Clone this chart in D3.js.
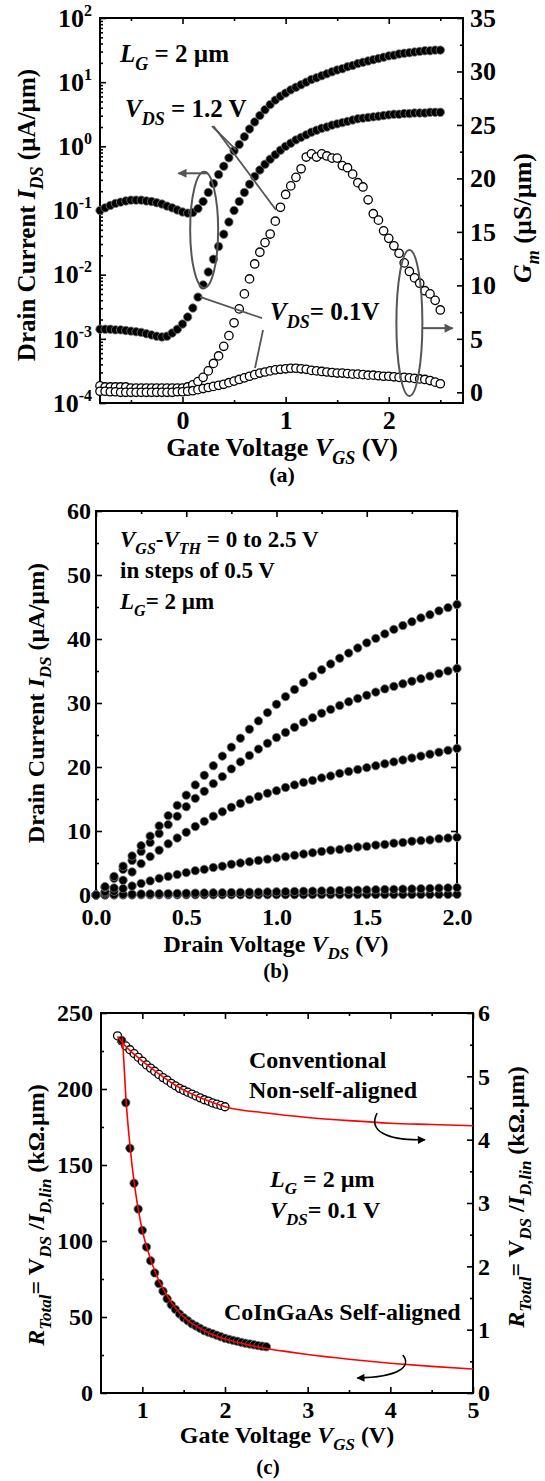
<!DOCTYPE html>
<html>
<head>
<meta charset="utf-8">
<script src="https://cdn.jsdelivr.net/npm/d3@7"></script>
<style>
  body { margin: 0; background: #fff; }
  text { font-family: "Liberation Serif", "Times New Roman", serif; font-weight: bold; fill: #000; }
</style>
</head>
<body>
<svg id="fig" width="545" height="1481"></svg>
<script>
// ---------- panel (a): transfer curves + transconductance ----------
var vgsA = [-0.8,-0.75,-0.7,-0.65,-0.6,-0.55,-0.5,-0.45,-0.4,-0.35,-0.3,-0.25,-0.2,-0.15,-0.1,-0.05,
  0,0.05,0.1,0.15,0.2,0.25,0.3,0.35,0.4,0.45,0.5,0.55,0.6,0.65,0.7,0.75,0.8,0.85,0.9,0.95,
  1,1.05,1.1,1.15,1.2,1.25,1.3,1.35,1.4,1.45,1.5,1.55,1.6,1.65,1.7,1.75,1.8,1.85,1.9,1.95,
  2,2.05,2.1,2.15,2.2,2.25,2.3,2.35,2.4,2.45,2.5];
// I_DS (uA/um) at V_DS = 1.2 V
var idsHigh = [0.100,0.110,0.120,0.129,0.135,0.141,0.145,0.145,0.145,0.141,0.138,0.132,0.126,0.117,0.110,0.102,
  0.095,0.091,0.093,0.107,0.138,0.191,0.263,0.363,0.490,0.661,0.851,
  1.07,1.41,1.86,2.40,3.02,3.72,4.47,5.25,6.03,
  6.76,7.59,8.32,9.12,10.0,11.0,11.7,12.6,13.5,14.5,
  15.5,16.2,17.4,18.2,19.5,20.4,21.4,22.4,23.4,24.5,
  25.7,26.3,27.5,28.2,28.8,29.5,30.2,30.9,30.9,31.6,31.6];
// I_DS (uA/um) at V_DS = 0.1 V
var idsLow = [1.41e-3,1.41e-3,1.41e-3,1.38e-3,1.38e-3,1.35e-3,1.32e-3,1.29e-3,1.26e-3,1.20e-3,1.15e-3,1.10e-3,1.07e-3,1.10e-3,1.23e-3,1.41e-3,
  1.70e-3,2.19e-3,3.02e-3,4.47e-3,6.92e-3,1.10e-2,1.74e-2,2.75e-2,4.27e-2,6.61e-2,0.100,
  0.138,0.191,0.257,0.339,0.427,0.525,0.631,0.741,0.871,
  1.00,1.12,1.26,1.38,1.51,1.66,1.78,1.91,2.00,2.14,
  2.24,2.34,2.45,2.57,2.69,2.75,2.82,2.88,2.95,3.02,
  3.09,3.16,3.16,3.24,3.24,3.31,3.31,3.31,3.39,3.39,3.39];
// G_m (uS/um) at V_DS = 1.2 V
var gmHigh = [0.6,0.5,0.5,0.5,0.5,0.5,0.4,0.4,0.4,0.4,0.4,0.4,0.4,0.4,0.4,0.4,
  0.4,0.5,0.7,1.0,1.4,2.0,2.7,3.4,4.3,5.3,6.5,
  7.8,9.2,10.6,12.0,13.1,14.0,14.8,16.0,17.3,
  18.5,19.3,20.1,20.9,22.0,22.3,22.0,22.3,22.1,21.9,
  21.9,21.2,21.0,20.4,19.6,19.2,18.0,16.7,16.1,15.1,
  14.4,13.7,13.0,12.1,11.3,10.7,10.2,9.5,9.2,8.6,7.7];
// G_m (uS/um) at V_DS = 0.1 V
var gmLow = [0.1,0.1,0.05,0.05,0,0,0,0,0,0,0,0,0,0,0,0.05,
  0.05,0.1,0.15,0.25,0.35,0.45,0.55,0.65,0.75,0.9,1.05,
  1.2,1.35,1.5,1.65,1.8,1.9,2.0,2.1,2.15,
  2.2,2.25,2.25,2.2,2.15,2.05,2.0,1.95,1.9,1.85,
  1.8,1.8,1.75,1.7,1.7,1.65,1.6,1.6,1.55,1.5,
  1.5,1.45,1.4,1.4,1.35,1.3,1.25,1.2,1.1,0.95,0.8];
var logTicksA = [1e-4,1e-3,1e-2,1e-1,1e0,1e1,1e2];
var gmTicksA = [0,5,10,15,20,25,30,35];
var vgsTicksA = [0,1,2];

// ---------- panel (b): output curves ----------
var vdsB = [0,0.05,0.1,0.15,0.2,0.25,0.3,0.35,0.4,0.45,0.5,0.55,0.6,0.65,0.7,0.75,0.8,0.85,0.9,0.95,
  1,1.05,1.1,1.15,1.2,1.25,1.3,1.35,1.4,1.45,1.5,1.55,1.6,1.65,1.7,1.75,1.8,1.85,1.9,1.95,2];
var ib25 = [0,1.3,2.9,4.5,6.1,7.7,9.2,10.8,12.4,14.0,15.6,17.2,18.7,20.2,21.7,23.1,24.5,25.9,27.2,28.5,
  29.8,31.0,32.1,33.2,34.2,35.2,36.1,37.0,37.8,38.6,39.4,40.1,40.8,41.5,42.1,42.7,43.3,43.8,44.4,44.9,45.4];
var ib20 = [0,1.2,2.6,4.0,5.4,6.8,8.2,9.6,11.0,12.3,13.8,15.1,16.2,17.4,18.5,19.7,20.8,21.8,22.8,23.7,
  24.6,25.4,26.2,27.0,27.7,28.4,29.0,29.6,30.2,30.7,31.2,31.7,32.2,32.6,33.0,33.4,33.8,34.2,34.6,35.0,35.4];
var ib15 = [0,0.5,1.1,2.3,3.6,4.9,6.0,7.0,8.0,8.9,9.8,10.7,11.5,12.3,13.0,13.7,14.3,14.9,15.4,15.9,
  16.3,16.8,17.2,17.6,17.9,18.3,18.6,19.0,19.3,19.6,19.9,20.2,20.5,20.8,21.1,21.4,21.7,22.0,22.3,22.6,22.9];
var ib10 = [0,0.3,0.6,1.0,1.4,1.8,2.2,2.6,2.9,3.2,3.5,3.8,4.0,4.3,4.5,4.8,5.0,5.2,5.4,5.6,
  5.8,6.0,6.2,6.4,6.6,6.8,7.0,7.1,7.3,7.5,7.6,7.8,7.9,8.1,8.2,8.4,8.5,8.6,8.8,8.9,9.0];
var ib05 = [0,0.03,0.06,0.09,0.12,0.15,0.18,0.2,0.22,0.25,0.27,0.3,0.32,0.34,0.36,0.38,0.41,0.43,0.45,0.48,
  0.5,0.53,0.56,0.58,0.61,0.64,0.67,0.7,0.73,0.76,0.79,0.82,0.85,0.88,0.92,0.95,0.99,1.03,1.07,1.11,1.15];
var ib00 = [0,0,0.01,0.01,0.01,0.02,0.02,0.02,0.02,0.03,0.03,0.03,0.03,0.03,0.04,0.04,0.04,0.04,0.04,0.05,
  0.05,0.05,0.05,0.05,0.06,0.06,0.06,0.06,0.06,0.07,0.07,0.07,0.07,0.07,0.08,0.08,0.08,0.08,0.09,0.09,0.1];
var idTicksB = [0,10,20,30,40,50,60];
var vdsTicksB = [0,0.5,1,1.5,2];

// ---------- panel (c): total resistance ----------
var vgsSA = [0.75,0.8,0.85,0.9,0.95,1,1.05,1.1,1.15,1.2,1.25,1.3,1.35,1.4,1.45,1.5,1.55,1.6,1.65,1.7,
  1.75,1.8,1.85,1.9,1.95,2,2.05,2.1,2.15,2.2,2.25,2.3,2.35,2.4,2.45,2.5];
var rSA = [232,191,161,138,121,107,96,87,79,72,67,62,58,55,52,49.5,47.5,45.5,44,42.5,
  41,40,39,38,37,36,35.3,34.6,34,33.3,32.7,32.2,31.7,31.2,30.8,30.4];          // left axis
var vgsConv = [0.7,0.75,0.8,0.85,0.9,0.95,1,1.05,1.1,1.15,1.2,1.25,1.3,1.35,1.4,1.45,1.5,1.55,1.6,1.65,
  1.7,1.75,1.8,1.85,1.9,1.95,2];
var rConv = [5.64,5.56,5.48,5.42,5.36,5.30,5.24,5.18,5.13,5.08,5.03,4.98,4.94,4.89,4.85,4.81,4.78,4.75,4.72,4.69,
  4.66,4.63,4.61,4.58,4.56,4.54,4.52];                                          // right axis
var fitSAv = [0.76,0.8,0.85,0.9,0.95,1,1.1,1.2,1.3,1.4,1.5,1.75,2,2.25,2.5,2.75,3,3.5,4,4.5,5];
var fitSAr = [234,195,163,139,121,107,88,74,64,56,50,41,35.5,32,29.3,27.2,25.3,22.2,19.6,17.5,15.8];
var fitConvV = [0.7,0.8,0.9,1,1.2,1.4,1.6,1.8,2,2.5,3,3.5,4,4.5,5];
var fitConvR = [5.63,5.47,5.35,5.24,5.04,4.86,4.72,4.61,4.52,4.42,4.35,4.30,4.26,4.24,4.22];
var rLeftTicksC = [0,50,100,150,200,250];
var rRightTicksC = [0,1,2,3,4,5,6];
var vgsTicksC = [1,2,3,4,5];

var svg = d3.select("#fig");
svg.append("rect").attr("width", 545).attr("height", 1481).attr("fill", "#fff");

var defs = svg.append("defs");
function marker(id, color, w, h) {
  defs.append("marker").attr("id", id)
    .attr("viewBox", "0 0 10 10").attr("refX", 9).attr("refY", 5)
    .attr("markerWidth", w).attr("markerHeight", h)
    .attr("markerUnits", "userSpaceOnUse").attr("orient", "auto")
    .append("path").attr("d", "M0,0 L10,5 L0,10 Z").attr("fill", color);
}
marker("arrGrey", "#555", 13, 9);
marker("arrBlack", "#000", 11, 8);

// text with italic / subscript pieces: parts = [[text, flags]], flags "i" italic, "s" subscript
function rich(parts, size, o) {
  var t = svg.append("text").attr("font-size", size)
    .attr("text-anchor", o.anchor || "start").style("white-space", "pre");
  if (o.rot) t.attr("transform", "translate(" + o.x + "," + o.y + ") rotate(-90)");
  else t.attr("x", o.x).attr("y", o.y);
  var off = 0;
  parts.forEach(function(p) {
    var f = p[1] || "";
    var s = t.append("tspan").text(p[0]);
    var sub = f.indexOf("s") >= 0;
    var want = sub ? Math.round(size * 0.3) : 0;
    if (want !== off) { s.attr("dy", want - off); off = want; }
    if (sub) s.attr("font-size", Math.round(size * 0.7));
    if (f.indexOf("i") >= 0) s.attr("font-style", "italic");
  });
  return t;
}

// inward ticks, optional labels
function tickAxis(gen, vals, size, pad, fmt, tx, ty, fs) {
  gen.tickValues(vals).tickSizeInner(-size).tickSizeOuter(0).tickPadding(pad)
    .tickFormat(fmt || function() { return ""; });
  var g = svg.append("g").attr("transform", "translate(" + tx + "," + ty + ")").call(gen);
  g.select(".domain").remove();
  g.selectAll("line").attr("stroke", "#000").attr("stroke-width", 1.6);
  g.selectAll("text").attr("font-size", fs || 24).attr("fill", "#000");
  return g;
}

function frame(x, y) {
  svg.append("rect")
    .attr("x", x.range()[0]).attr("y", y.range()[1])
    .attr("width", x.range()[1] - x.range()[0]).attr("height", y.range()[0] - y.range()[1])
    .attr("fill", "none").attr("stroke", "#000").attr("stroke-width", 2);
}

function dots(xv, yv, sx, sy, r, open) {
  svg.append("g").selectAll("circle")
    .data(xv.map(function(v, i) { return [v, yv[i]]; }))
    .join("circle")
      .attr("cx", function(d) { return sx(d[0]); })
      .attr("cy", function(d) { return sy(d[1]); })
      .attr("r", r)
      .attr("fill", open ? "#fff" : "#000")
      .attr("stroke", open ? "#000" : "#777")
      .attr("stroke-width", open ? 1.3 : 0.8);
}

function minorRange(a, b, step) {
  var out = [];
  for (var v = a; v <= b + 1e-9; v += step) out.push(+v.toFixed(3));
  return out;
}

// ===================== (a) =====================
var xA = d3.scaleLinear().domain([-0.8, 2.72]).range([100, 463]);
var yA = d3.scaleLog().domain([1e-4, 1e2]).range([403, 18]);
var gA = d3.scaleLinear().domain([-1, 35]).range([403, 18]);

var logMinor = [];
[-4, -3, -2, -1, 0, 1].forEach(function(k) {
  for (var m = 2; m <= 9; m++) logMinor.push(m * Math.pow(10, k));
});

var gl = tickAxis(d3.axisLeft(yA), logTicksA, 6, 8, null, 100, 0, 26);
gl.selectAll(".tick text").each(function(d) {
  var t = d3.select(this);
  t.append("tspan").text("10");
  t.append("tspan").attr("dy", -11).attr("font-size", 16).text(Math.round(Math.log10(d)));
});
tickAxis(d3.axisLeft(yA), logMinor, 3, 0, null, 100, 0);
tickAxis(d3.axisRight(gA), gmTicksA, 6, 7, d3.format("d"), 463, 0, 26);
tickAxis(d3.axisRight(gA), minorRange(2.5, 32.5, 5), 3, 0, null, 463, 0);
tickAxis(d3.axisBottom(xA), vgsTicksA, 6, 8, d3.format("d"), 0, 403, 26);
tickAxis(d3.axisBottom(xA), [-0.5, 0.5, 1.5, 2.5], 3, 0, null, 0, 403);
tickAxis(d3.axisTop(xA), vgsTicksA, 6, 0, null, 0, 18);
tickAxis(d3.axisTop(xA), [-0.5, 0.5, 1.5, 2.5], 3, 0, null, 0, 18);
frame(xA, yA);

dots(vgsA, idsHigh, xA, yA, 4.2, false);
dots(vgsA, idsLow, xA, yA, 4.2, false);
dots(vgsA, gmHigh, xA, gA, 4.2, true);
dots(vgsA, gmLow, xA, gA, 4.2, true);

// annotations (a)
var grey = "#555";
svg.append("ellipse").attr("cx", xA(0.21)).attr("cy", yA(0.05)).attr("rx", 14).attr("ry", 58)
  .attr("fill", "none").attr("stroke", grey).attr("stroke-width", 2);
svg.append("line").attr("x1", xA(0.24)).attr("y1", yA(0.38)).attr("x2", xA(-0.04)).attr("y2", yA(0.38))
  .attr("stroke", grey).attr("stroke-width", 2).attr("marker-end", "url(#arrGrey)");
svg.append("ellipse").attr("cx", xA(2.2)).attr("cy", gA(6.48)).attr("rx", 13).attr("ry", 73)
  .attr("fill", "none").attr("stroke", grey).attr("stroke-width", 2);
svg.append("line").attr("x1", xA(2.33)).attr("y1", gA(6)).attr("x2", xA(2.62)).attr("y2", gA(6))
  .attr("stroke", grey).attr("stroke-width", 2).attr("marker-end", "url(#arrGrey)");
// V_DS = 1.2 V pointers
svg.append("line").attr("x1", xA(0.286)).attr("y1", yA(2.07)).attr("x2", xA(0.52)).attr("y2", yA(0.88))
  .attr("stroke", grey).attr("stroke-width", 1.8);
svg.append("line").attr("x1", xA(0.30)).attr("y1", yA(2.07)).attr("x2", xA(0.907)).attr("y2", gA(17.05))
  .attr("stroke", grey).attr("stroke-width", 1.8);
// V_DS = 0.1 V pointers
svg.append("line").attr("x1", xA(0.17)).attr("y1", yA(4.5e-3)).attr("x2", xA(0.771)).attr("y2", yA(2.1e-3))
  .attr("stroke", grey).attr("stroke-width", 1.8);
svg.append("line").attr("x1", xA(0.781)).attr("y1", gA(5.83)).attr("x2", xA(0.703)).attr("y2", gA(2.27))
  .attr("stroke", grey).attr("stroke-width", 1.8);

rich([["L", "i"], ["G", "is"], [" = 2 µm"]], 25, { x: 120, y: 62 });
rich([["V", "i"], ["DS", "is"], [" = 1.2 V"]], 25, { x: 125, y: 117 });
rich([["V", "i"], ["DS", "is"], ["= 0.1V"]], 25, { x: 270, y: 320 });
rich([["Drain Current "], ["I", "i"], ["DS", "is"], [" (µA/µm)"]], 25, { x: 35, y: 215, rot: true, anchor: "middle" });
rich([["G", "i"], ["m", "is"], [" (µS/µm)"]], 26, { x: 531, y: 218, rot: true, anchor: "middle" });
rich([["Gate Voltage "], ["V", "i"], ["GS", "is"], [" (V)"]], 26, { x: 282, y: 456, anchor: "middle" });
rich([["(a)"]], 22, { x: 282, y: 482, anchor: "middle" });

// ===================== (b) =====================
var xB = d3.scaleLinear().domain([0, 2]).range([96, 457]);
var yB = d3.scaleLinear().domain([0, 60]).range([895, 511]);

tickAxis(d3.axisLeft(yB), idTicksB, 6, 5, d3.format("d"), 96, 0);
tickAxis(d3.axisLeft(yB), minorRange(5, 55, 10), 3, 0, null, 96, 0);
tickAxis(d3.axisRight(yB), idTicksB, 6, 0, null, 457, 0);
tickAxis(d3.axisRight(yB), minorRange(5, 55, 10), 3, 0, null, 457, 0);
tickAxis(d3.axisBottom(xB), vdsTicksB, 6, 13, d3.format(".1f"), 0, 895);
tickAxis(d3.axisBottom(xB), [0.25, 0.75, 1.25, 1.75], 3, 0, null, 0, 895);
tickAxis(d3.axisTop(xB), vdsTicksB, 6, 0, null, 0, 511);
tickAxis(d3.axisTop(xB), [0.25, 0.75, 1.25, 1.75], 3, 0, null, 0, 511);
frame(xB, yB);

[ib00, ib05, ib10, ib15, ib20, ib25].forEach(function(s) { dots(vdsB, s, xB, yB, 4.2, false); });

rich([["V", "i"], ["GS", "is"], ["-"], ["V", "i"], ["TH", "is"], [" = 0 to 2.5 V"]], 23, { x: 120, y: 547 });
rich([["in steps of 0.5 V"]], 23, { x: 120, y: 578 });
rich([["L", "i"], ["G", "is"], ["= 2 µm"]], 23, { x: 120, y: 609 });
rich([["Drain Current "], ["I", "i"], ["DS", "is"], [" (µA/µm)"]], 24, { x: 44, y: 703, rot: true, anchor: "middle" });
rich([["Drain Voltage "], ["V", "i"], ["DS", "is"], [" (V)"]], 24, { x: 276, y: 952, anchor: "middle" });
rich([["(b)"]], 21, { x: 276, y: 978, anchor: "middle" });

// ===================== (c) =====================
var xC = d3.scaleLinear().domain([0.5, 5]).range([101, 473]);
var yCL = d3.scaleLinear().domain([0, 250]).range([1393, 1013]);
var yCR = d3.scaleLinear().domain([0, 6]).range([1393, 1013]);

tickAxis(d3.axisLeft(yCL), rLeftTicksC, 6, 8, d3.format("d"), 101, 0);
tickAxis(d3.axisLeft(yCL), minorRange(25, 225, 50), 3, 0, null, 101, 0);
tickAxis(d3.axisRight(yCR), rRightTicksC, 6, 5, d3.format("d"), 473, 0);
tickAxis(d3.axisRight(yCR), minorRange(0.5, 5.5, 1), 3, 0, null, 473, 0);
tickAxis(d3.axisBottom(xC), vgsTicksC, 6, 8, d3.format("d"), 0, 1393);
tickAxis(d3.axisBottom(xC), [1.5, 2.5, 3.5, 4.5], 3, 0, null, 0, 1393);
tickAxis(d3.axisTop(xC), vgsTicksC, 6, 0, null, 0, 1013);
tickAxis(d3.axisTop(xC), [1.5, 2.5, 3.5, 4.5], 3, 0, null, 0, 1013);
frame(xC, yCL);

dots(vgsConv, rConv, xC, yCR, 4, true);
dots(vgsSA, rSA, xC, yCL, 4.2, false);

var fitLineL = d3.line().x(function(d) { return xC(d[0]); }).y(function(d) { return yCL(d[1]); }).curve(d3.curveMonotoneX);
var fitLineR = d3.line().x(function(d) { return xC(d[0]); }).y(function(d) { return yCR(d[1]); }).curve(d3.curveMonotoneX);
svg.append("path").attr("d", fitLineR(fitConvV.map(function(v, i) { return [v, fitConvR[i]]; })))
  .attr("fill", "none").attr("stroke", "#f00").attr("stroke-width", 1.6);
svg.append("path").attr("d", fitLineL(fitSAv.map(function(v, i) { return [v, fitSAr[i]]; })))
  .attr("fill", "none").attr("stroke", "#f00").attr("stroke-width", 1.6);

// curved arrows (c)
function curveArrow(pts, sy) {
  var p = pts.map(function(d) { return [xC(d[0]), sy(d[1])]; });
  svg.append("path")
    .attr("d", "M" + p[0] + " C" + p[1] + " " + p[2] + " " + p[3])
    .attr("fill", "none").attr("stroke", "#000").attr("stroke-width", 1.5)
    .attr("marker-end", "url(#arrBlack)");
}
curveArrow([[3.84, 4.42], [3.73, 4.15], [3.94, 3.98], [4.42, 4.0]], yCR);
curveArrow([[4.15, 25.0], [4.26, 17.8], [4.12, 10.5], [3.6, 9.9]], yCL);

rich([["Conventional"]], 24, { x: 249, y: 1068 });
rich([["Non-self-aligned"]], 24, { x: 249, y: 1098 });
rich([["L", "i"], ["G", "is"], [" = 2 µm"]], 24, { x: 270, y: 1187 });
rich([["V", "i"], ["DS", "is"], ["= 0.1 V"]], 24, { x: 270, y: 1218 });
rich([["CoInGaAs Self-aligned"]], 24, { x: 224, y: 1320 });
var rTitle = [["R", "i"], ["Total", "is"], ["= V"], ["DS", "is"], [" /"], ["I", "i"], ["D,lin", "is"], [" (kΩ.µm)"]];
rich(rTitle, 24, { x: 44, y: 1215, rot: true, anchor: "middle" });
rich(rTitle, 24, { x: 524, y: 1197, rot: true, anchor: "middle" });
rich([["Gate Voltage "], ["V", "i"], ["GS", "is"], [" (V)"]], 24, { x: 287, y: 1443, anchor: "middle" });
rich([["(c)"]], 21, { x: 268, y: 1474, anchor: "middle" });
</script>
</body>
</html>
